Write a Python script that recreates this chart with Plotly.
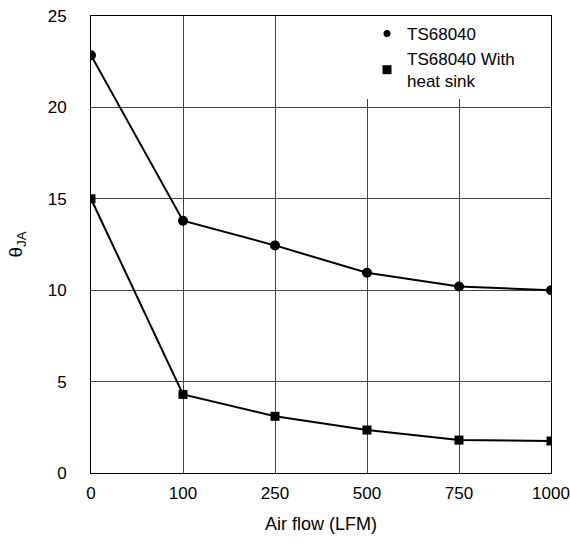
import plotly.graph_objects as go

categories = ["0", "100", "250", "500", "750", "1000"]
ts68040 = [22.85, 13.8, 12.45, 10.95, 10.2, 10.0]
ts68040_hs = [15.0, 4.3, 3.1, 2.35, 1.8, 1.75]
y_ticks = [0, 5, 10, 15, 20, 25]
names = ["TS68040", "TS68040 With<br>heat sink"]
symbols = ["circle", "square"]

x_idx = list(range(len(categories)))
font = dict(family="Liberation Sans, Arial, sans-serif", size=17, color="black")

fig = go.Figure()
for vals, nm, sym in zip([ts68040, ts68040_hs], names, symbols):
    fig.add_trace(go.Scatter(x=x_idx, y=vals, mode="lines+markers", name=nm, showlegend=False,
                             line=dict(color="black", width=2),
                             marker=dict(symbol=sym, size=9 if sym == "square" else 10, color="black")))
for nm, sym in zip(names, symbols):
    fig.add_trace(go.Scatter(x=[None], y=[None], mode="markers", name=nm,
                             marker=dict(symbol=sym, size=9 if sym == "square" else 7, color="black")))

fig.update_layout(
    width=570, height=543,
    margin=dict(l=91, r=19, t=16, b=70, autoexpand=False),
    plot_bgcolor="white", paper_bgcolor="white",
    font=font,
    showlegend=True,
    legend=dict(x=0.6, y=1.0, xanchor="left", yanchor="top", bgcolor="white",
                font=dict(size=17), itemwidth=30, tracegroupgap=0),
    xaxis=dict(range=[0, 5], tickvals=x_idx, ticktext=categories, showgrid=True,
               gridcolor="#444", gridwidth=1, showline=True, linecolor="black", linewidth=1,
               mirror=True, ticks="", zeroline=False, ticklabelstandoff=5, automargin=False,
               ticklabeloverflow="allow",
               title=dict(text="Air flow (LFM)", standoff=14, font=dict(size=18))),
    yaxis=dict(range=[0, 25], tickvals=y_ticks, showgrid=True, gridcolor="#444", gridwidth=1,
               showline=True, linecolor="black", linewidth=1, mirror=True, ticks="",
               zeroline=False, ticklabelstandoff=20, automargin=False,
               ticklabeloverflow="allow",
               title=dict(text="θ<sub>JA</sub>", standoff=20, font=dict(size=19))),
)
fig.write_html("out.html", config={"displayModeBar": False},
               post_script="document.body.style.margin='0';document.body.style.overflow='hidden';")
